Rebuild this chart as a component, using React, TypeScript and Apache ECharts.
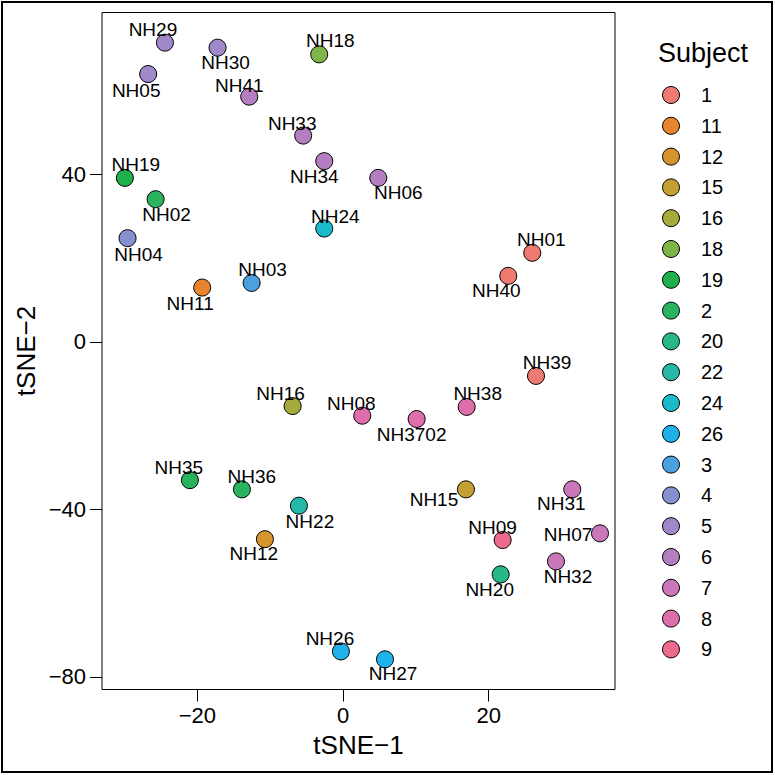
import React, { useEffect, useRef } from "react";
import * as echarts from "echarts";

const sampleNames = [
  "NH29", "NH30", "NH18", "NH05", "NH41", "NH33", "NH34", "NH19", "NH06", "NH02", "NH24",
  "NH04", "NH03", "NH11", "NH01", "NH40", "NH39", "NH38", "NH08", "NH3702", "NH16", "NH35",
  "NH36", "NH22", "NH12", "NH26", "NH27", "NH15", "NH31", "NH07", "NH09", "NH32", "NH20",
];
const tsne1 = [
  -24.46, -17.23, -3.27, -26.76, -12.88, -5.47, -2.58, -29.96, 4.84, -25.74, -2.58,
  -29.59, -12.55, -19.34, 25.99, 22.69, 26.5, 16.98, 2.64, 10.11, -6.92, -21.03,
  -13.89, -6.06, -10.73, -0.29, 5.76, 16.88, 31.48, 35.29, 21.92, 29.24, 21.65,
];
const tsne2 = [
  71.5, 70.3, 68.7, 64.0, 58.6, 49.3, 43.2, 39.2, 39.2, 34.1, 27.1,
  24.8, 14.1, 13.0, 21.3, 15.8, -8.1, -15.5, -17.6, -18.4, -15.3, -33.0,
  -35.2, -39.1, -47.1, -73.9, -75.8, -35.2, -35.2, -45.7, -47.3, -52.4, -55.5,
];
const sampleSubject = [
  "5", "5", "18", "5", "6", "6", "6", "19", "6", "2", "24",
  "4", "3", "11", "1", "1", "1", "8", "8", "8", "16", "2",
  "2", "22", "12", "26", "26", "15", "7", "7", "9", "7", "20",
];
const subjectLevels = [
  "1", "11", "12", "15", "16", "18", "19", "2", "20", "22",
  "24", "26", "3", "4", "5", "6", "7", "8", "9",
];
const subjectColors = [
  "#EE7A72", "#E8832E", "#D6942D", "#C3A032", "#A5AA3A", "#7DB548", "#1FAF4B", "#29B35F", "#27B88A", "#25B8A7",
  "#1BBACB", "#1EB1EA", "#4CA0DF", "#8490CF", "#A088CB", "#B57EC1", "#C977B8", "#DE6DAB", "#EC6A8E",
];
const xTicks = [-20, 0, 20];
const yTicks = [-80, -40, 0, 40];

// label placement (pixel offsets of label centre from point centre)
const labelOffsets: Record<string, [number, number]> = {
  NH29: [-12, -13], NH30: [8, 15], NH18: [11, -14], NH05: [-12, 16], NH41: [-10, -11],
  NH33: [-11, -12], NH34: [-10, 15], NH19: [11, -13], NH06: [20, 15], NH02: [11, 15],
  NH24: [11, -12], NH04: [11, 16], NH03: [11, -13], NH11: [-12, 16], NH01: [9, -13],
  NH40: [-12, 15], NH39: [11, -13], NH38: [11, -13], NH08: [-11, -12], NH3702: [-5, 15],
  NH16: [-12, -13], NH35: [-11, -13], NH36: [10, -13], NH22: [11, 16], NH12: [-11, 14],
  NH26: [-11, -13], NH27: [8, 14], NH15: [-32, 10], NH31: [-11, 14], NH07: [-32, 1],
  NH09: [-10, -13], NH32: [12, 15], NH20: [-11, 15],
};

const FONT = "'Liberation Sans', Arial, Helvetica, sans-serif";
const fmtNum = (v: number) => (v < 0 ? "\u2212" + Math.abs(v) : String(v));

export default function App() {
  const ref = useRef<HTMLDivElement>(null);
  useEffect(() => {
    if (!ref.current) return;
    const chart = echarts.init(ref.current, undefined, { renderer: "svg" });
    const data = sampleNames.map((n, i) => {
      const ci = subjectLevels.indexOf(sampleSubject[i]);
      return {
        name: n,
        value: [tsne1[i], tsne2[i]],
        itemStyle: { color: subjectColors[ci] },
        label: { offset: labelOffsets[n] || [0, -14] },
      };
    });
    const legendItems: any[] = [];
    subjectLevels.forEach((s, i) => {
      const cy = 95 + i * 30.8;
      legendItems.push({
        type: "circle",
        shape: { cx: 671, cy, r: 8.5 },
        style: { fill: subjectColors[i], stroke: "#000", lineWidth: 1 },
      });
      legendItems.push({
        type: "text",
        x: 701,
        y: cy,
        style: { text: s, fontSize: 20, fontFamily: FONT, fill: "#000", textAlign: "left", textVerticalAlign: "middle" },
      });
    });
    chart.setOption({
      animation: false,
      backgroundColor: "#fff",
      grid: { left: 102, top: 12.5, width: 513, height: 677, show: true, borderColor: "#000", borderWidth: 1 },
      xAxis: {
        type: "value",
        min: -33.1,
        max: 37.35,
        axisLine: { show: false, onZero: false },
        splitLine: { show: false },
        axisTick: { show: true, inside: false, length: 12, customValues: xTicks, lineStyle: { color: "#000", width: 1 } },
        axisLabel: { customValues: xTicks, formatter: fmtNum, fontSize: 22, color: "#000", margin: 15, fontFamily: FONT },
      },
      yAxis: {
        type: "value",
        min: -83,
        max: 78.7,
        axisLine: { show: false, onZero: false },
        splitLine: { show: false },
        axisTick: { show: true, inside: false, length: 12, customValues: yTicks, lineStyle: { color: "#000", width: 1 } },
        axisLabel: { customValues: yTicks, formatter: fmtNum, fontSize: 22, color: "#000", margin: 16, fontFamily: FONT },
      },
      series: [
        {
          type: "scatter",
          symbol: "circle",
          symbolSize: 17,
          data,
          itemStyle: { borderColor: "#000", borderWidth: 1, opacity: 1 },
          label: {
            show: true,
            position: "inside",
            formatter: "{b}",
            fontSize: 19,
            color: "#000",
            fontFamily: FONT,
            align: "center",
            verticalAlign: "middle",
          },
          emphasis: { disabled: true },
        },
      ],
      graphic: [
        {
          type: "rect",
          shape: { x: 2, y: 2, width: 770, height: 770 },
          style: { fill: "none", stroke: "#000", lineWidth: 2 },
          silent: true,
        },
        {
          type: "text",
          x: 358.5,
          y: 745,
          style: { text: "tSNE\u22121", fontSize: 26, fontFamily: FONT, fill: "#000", textAlign: "center", textVerticalAlign: "middle" },
        },
        {
          type: "text",
          x: 26,
          y: 351,
          rotation: Math.PI / 2,
          style: { text: "tSNE\u22122", fontSize: 26, fontFamily: FONT, fill: "#000", textAlign: "center", textVerticalAlign: "middle" },
        },
        {
          type: "text",
          x: 703,
          y: 53,
          style: { text: "Subject", fontSize: 27, fontFamily: FONT, fill: "#000", textAlign: "center", textVerticalAlign: "middle" },
        },
        ...legendItems,
      ],
    });
    return () => chart.dispose();
  }, []);
  return (
    <div
      ref={ref}
      style={{ position: "absolute", left: 0, top: 0, width: 775, height: 775, background: "#fff" }}
    />
  );
}
